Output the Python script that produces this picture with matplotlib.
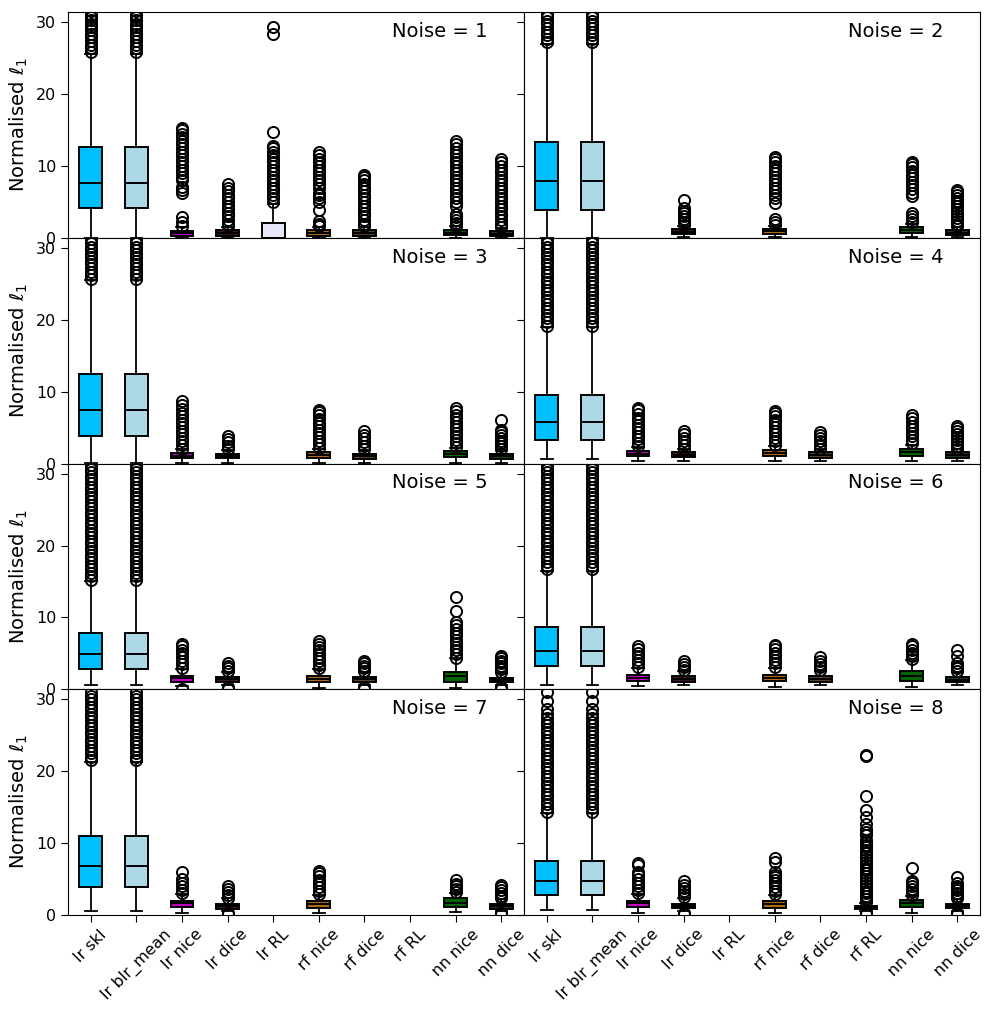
import matplotlib
matplotlib.use('Agg')
import matplotlib.pyplot as plt

cats = ['lr skl', 'lr blr_mean', 'lr nice', 'lr dice', 'lr RL',
        'rf nice', 'rf dice', 'rf RL', 'nn nice', 'nn dice']
colors = ['deepskyblue', 'lightblue', '#c000c0', '#401030', 'lavender',
          '#b06a10', '#5a4020', 'grey', 'darkgreen', '#1c3a1c']

# box stats, one row per noise level (None = method not shown)
q1 = [[4.1, 4.1, 0.3, 0.3, 0.0, 0.3, 0.3, None, 0.4, 0.2],
      [3.9, 3.9, None, 0.5, None, 0.6, None, None, 0.7, 0.45],
      [3.9, 3.9, 0.75, 0.75, None, 0.8, 0.7, None, 0.85, 0.7],
      [3.3, 3.3, 1.0, 0.9, None, 1.0, 0.8, None, 1.1, 0.8],
      [2.85, 2.85, 1.05, 1.0, None, 1.05, 1.0, None, 1.05, 1.0],
      [3.2, 3.2, 1.1, 1.0, None, 1.1, 1.0, None, 1.2, 1.0],
      [3.9, 3.9, 1.05, 0.9, None, 1.0, None, None, 1.1, 0.9],
      [2.75, 2.75, 1.15, 1.0, None, 1.0, None, 0.8, 1.15, 0.95]]
med = [[7.6, 7.6, 0.7, 0.7, 0.0, 0.7, 0.7, None, 0.75, 0.6],
       [7.85, 7.85, None, 0.85, None, 0.95, None, None, 1.1, 0.75],
       [7.5, 7.5, 1.1, 1.05, None, 1.2, 1.05, None, 1.3, 1.05],
       [5.8, 5.8, 1.4, 1.25, None, 1.45, 1.2, None, 1.6, 1.2],
       [4.9, 4.9, 1.6, 1.4, None, 1.5, 1.4, None, 1.8, 1.3],
       [5.3, 5.3, 1.6, 1.4, None, 1.55, 1.4, None, 1.9, 1.35],
       [6.8, 6.8, 1.7, 1.3, None, 1.5, None, None, 1.7, 1.25],
       [4.7, 4.7, 1.7, 1.3, None, 1.5, None, 1.05, 1.65, 1.3]]
q3 = [[12.7, 12.7, 1.0, 1.1, 2.1, 1.1, 1.1, None, 1.1, 1.0],
      [13.3, 13.3, None, 1.2, None, 1.3, None, None, 1.5, 1.05],
      [12.5, 12.5, 1.5, 1.4, None, 1.6, 1.4, None, 1.75, 1.4],
      [9.5, 9.5, 1.8, 1.6, None, 1.9, 1.6, None, 2.1, 1.6],
      [7.85, 7.85, 1.9, 1.75, None, 1.9, 1.75, None, 2.45, 1.6],
      [8.6, 8.6, 2.0, 1.8, None, 2.0, 1.8, None, 2.6, 1.7],
      [11.0, 11.0, 2.0, 1.6, None, 2.0, None, None, 2.3, 1.6],
      [7.45, 7.45, 2.0, 1.6, None, 1.95, None, 1.3, 2.1, 1.6]]
wlo = [[0.05, 0.05, 0.05, 0.05, 0.0, 0.05, 0.05, None, 0.05, 0.05],
       [0.05, 0.05, None, 0.1, None, 0.1, None, None, 0.1, 0.1],
       [0.05, 0.05, 0.15, 0.15, None, 0.15, 0.15, None, 0.15, 0.15],
       [0.6, 0.6, 0.3, 0.3, None, 0.3, 0.3, None, 0.3, 0.3],
       [0.55, 0.55, 0.5, 0.6, None, 0.2, 0.6, None, 0.15, 0.6],
       [0.6, 0.6, 0.5, 0.6, None, 0.3, 0.6, None, 0.3, 0.6],
       [0.55, 0.55, 0.3, 0.6, None, 0.3, None, None, 0.4, 0.6],
       [0.7, 0.7, 0.3, 0.6, None, 0.3, None, 0.6, 0.3, 0.6]]
whi = [[25.6, 25.6, 1.5, 1.5, 4.7, 1.5, 1.5, None, 1.6, 1.4],
       [27.0, 27.0, None, 1.6, None, 1.7, None, None, 2.0, 1.5],
       [25.5, 25.5, 2.0, 1.9, None, 2.0, 1.9, None, 2.2, 1.9],
       [19.0, 19.0, 2.3, 2.0, None, 2.5, 2.0, None, 2.6, 2.0],
       [15.0, 15.0, 2.8, 2.4, None, 2.8, 2.4, None, 4.3, 2.3],
       [16.5, 16.5, 3.0, 2.6, None, 3.0, 2.6, None, 4.1, 2.4],
       [21.3, 21.3, 2.9, 2.3, None, 2.8, None, None, 3.1, 2.2],
       [14.2, 14.2, 2.9, 2.4, None, 2.8, None, 1.7, 2.7, 2.2]]

# outliers per method, one list per noise level
fl_lr_skl = [
    [25.9, 26.4, 26.9, 27.4, 27.9, 28.4, 28.9, 29.4, 29.8, 30.3, 30.8, 31.0, 31.5],
    [27.2, 27.7, 28.2, 28.7, 29.2, 29.7, 30.2, 30.7, 31.2],
    [25.7, 26.2, 26.7, 27.2, 27.7, 28.2, 28.7, 29.2, 29.7, 30.2, 30.7, 31.2],
    [19.2, 19.7, 20.2, 20.7, 21.2, 21.7, 22.2, 22.7, 23.2, 23.7, 24.2, 24.7, 25.2,
     25.7, 26.2, 26.7, 27.2, 27.7, 28.2, 28.7, 29.2, 29.7, 30.2, 30.7, 31.2],
    [15.2, 15.7, 16.2, 16.7, 17.2, 17.7, 18.2, 18.7, 19.2, 19.7, 20.2, 20.7, 21.2,
     21.7, 22.2, 22.7, 23.2, 23.7, 24.2, 24.7, 25.2, 25.7, 26.2, 26.7, 27.2, 27.7,
     28.2, 28.7, 29.2, 29.7, 30.2, 30.7, 31.2],
    [16.7, 17.2, 17.7, 18.2, 18.7, 19.2, 19.7, 20.2, 20.7, 21.2, 21.7, 22.2, 22.7,
     23.2, 23.7, 24.2, 24.7, 25.2, 25.7, 26.2, 26.7, 27.2, 27.7, 28.2, 28.7, 29.2,
     29.7, 30.2, 30.7, 31.2],
    [21.5, 22.0, 22.5, 23.0, 23.5, 24.0, 24.5, 25.0, 25.5, 26.0, 26.5, 27.0, 27.5,
     28.0, 28.5, 29.0, 29.5, 30.0, 30.5, 31.0],
    [14.4, 14.9, 15.4, 15.9, 16.4, 16.9, 17.4, 17.9, 18.4, 18.9, 19.4, 19.9, 20.4,
     20.9, 21.4, 21.9, 22.4, 22.9, 23.4, 23.9, 24.4, 24.9, 25.4, 25.9, 26.4, 26.9,
     27.4, 27.9, 28.6, 29.8, 31.0]]
fl_lr_blr = fl_lr_skl  # identical to lr skl in the figure
fl_lr_nice = [
    [1.7, 2.2, 2.9, 6.3, 6.7, 7.1, 8.0, 8.5, 9.0, 9.5, 10.0, 10.5, 11.0, 11.5, 12.0,
     12.5, 13.0, 13.5, 14.0, 14.5, 15.0, 15.3],
    [],
    [2.1, 2.6, 3.1, 3.6, 4.1, 4.6, 5.1, 5.6, 6.1, 6.6, 7.1, 7.6, 8.1, 8.7],
    [2.4, 2.9, 3.4, 3.9, 4.4, 4.9, 5.4, 5.9, 6.4, 6.9, 7.4, 7.8],
    [0.1, 3.0, 3.5, 4.0, 4.5, 5.0, 5.5, 6.0, 6.3],
    [3.1, 3.6, 4.1, 4.6, 5.1, 5.6, 6.0],
    [3.0, 3.5, 4.0, 4.5, 5.0, 6.0],
    [3.0, 3.5, 4.0, 4.5, 5.0, 5.5, 6.0, 6.9, 7.3]]
fl_lr_dice = [
    [1.6, 2.0, 2.5, 3.0, 3.5, 4.0, 4.5, 5.0, 5.5, 6.0, 6.5, 7.0, 7.5],
    [1.8, 2.2, 2.6, 3.0, 3.4, 3.8, 4.1, 5.3],
    [2.0, 2.5, 3.0, 3.4, 3.8],
    [2.1, 2.6, 3.1, 3.6, 4.1, 4.6],
    [0.1, 0.3, 2.5, 2.9, 3.3, 3.6],
    [2.7, 3.1, 3.5, 4.0],
    [0.1, 0.3, 2.4, 2.8, 3.2, 3.6, 4.0],
    [0.1, 0.3, 2.5, 2.9, 3.3, 3.7, 4.2, 4.7]]
fl_lr_rl = [
    [5.0, 5.5, 6.0, 6.5, 7.0, 7.5, 8.0, 8.5, 9.0, 9.5, 10.0, 10.5, 11.0, 11.5, 12.0,
     12.5, 12.8, 14.8, 28.3, 29.3],
    [], [], [], [], [], [], []]
fl_rf_nice = [
    [1.7, 2.0, 2.4, 3.9, 5.0, 5.5, 5.9, 6.3, 7.0, 7.5, 8.0, 8.5, 9.0, 9.5, 10.0,
     10.5, 11.0, 11.5, 11.9],
    [1.8, 2.2, 2.6, 4.8, 5.6, 6.0, 6.5, 7.0, 7.5, 8.0, 8.5, 9.0, 9.5, 10.0, 10.5,
     11.0, 11.2],
    [2.2, 2.7, 3.2, 3.7, 4.2, 4.7, 5.2, 5.7, 6.2, 6.7, 7.2, 7.5],
    [2.6, 3.1, 3.6, 4.1, 4.6, 5.1, 5.6, 6.1, 6.6, 7.0, 7.3],
    [2.9, 3.4, 3.9, 4.4, 4.9, 5.4, 5.9, 6.3, 6.7],
    [3.1, 3.6, 4.1, 4.6, 5.1, 5.6, 6.0, 6.2],
    [2.9, 3.4, 3.9, 4.4, 4.9, 5.4, 5.8, 6.1],
    [2.9, 3.4, 3.9, 4.4, 4.9, 5.3, 5.6, 6.0, 7.4, 7.9]]
fl_rf_dice = [
    [1.6, 2.0, 2.5, 3.0, 3.5, 4.0, 4.5, 5.0, 5.5, 6.0, 6.5, 7.0, 7.5, 8.0, 8.5, 8.8],
    [],
    [2.0, 2.5, 3.0, 3.5, 4.0, 4.5],
    [2.1, 2.6, 3.1, 3.6, 4.0, 4.4],
    [0.1, 0.3, 2.5, 2.9, 3.3, 3.7, 4.0],
    [2.7, 3.1, 3.5, 4.0, 4.5],
    [],
    []]
fl_rf_rl = [
    [], [], [], [], [], [], [],
    [0.1, 0.3, 1.8, 2.2, 2.6, 3.0, 3.4, 3.8, 4.2, 4.6, 5.0, 5.4, 5.8, 6.2, 6.6, 7.0,
     7.4, 7.8, 8.2, 8.6, 9.0, 9.4, 9.8, 10.2, 10.5, 11.1, 11.6, 12.0, 12.6, 13.6,
     14.6, 16.6, 22.1, 22.3]]
fl_nn_nice = [
    [1.7, 2.1, 2.5, 2.9, 3.3, 4.5, 5.0, 5.5, 6.0, 6.5, 7.0, 7.5, 8.0, 8.5, 9.0, 9.5,
     10.0, 10.5, 11.0, 11.5, 12.0, 12.5, 13.0, 13.5],
    [2.2, 2.6, 3.0, 3.4, 5.8, 6.3, 6.8, 7.3, 7.8, 8.3, 8.8, 9.3, 9.8, 10.3, 10.5],
    [2.3, 2.8, 3.3, 3.8, 4.3, 4.8, 5.3, 5.8, 6.3, 6.8, 7.3, 7.7],
    [2.8, 3.3, 3.8, 4.3, 4.8, 5.3, 5.8, 6.3, 6.8],
    [4.4, 4.9, 5.4, 5.9, 6.4, 6.9, 7.4, 7.9, 8.4, 8.9, 9.4, 10.9, 12.9],
    [4.2, 4.6, 5.0, 5.5, 6.0, 6.3],
    [3.2, 3.6, 4.0, 4.3, 4.9],
    [2.8, 3.2, 3.6, 4.0, 4.4, 4.8, 6.5]]
fl_nn_dice = [
    [1.5, 2.0, 2.5, 3.0, 3.5, 4.0, 4.5, 5.0, 5.5, 6.0, 6.5, 7.0, 7.5, 8.0, 8.5, 9.0,
     9.5, 10.0, 10.5, 11.0],
    [1.6, 2.0, 2.4, 2.8, 3.2, 3.6, 4.0, 4.4, 4.8, 5.2, 5.6, 6.0, 6.4, 6.6],
    [2.0, 2.4, 2.8, 3.2, 3.6, 4.0, 4.4, 4.7, 6.0],
    [2.1, 2.5, 2.9, 3.3, 3.7, 4.1, 4.5, 4.9, 5.3],
    [0.1, 0.3, 2.4, 2.8, 3.2, 3.6, 4.0, 4.3, 4.6],
    [2.5, 2.9, 3.3, 3.6, 4.7, 5.4],
    [0.1, 0.3, 2.3, 2.7, 3.1, 3.5, 3.9, 4.2],
    [0.1, 0.3, 2.3, 2.7, 3.1, 3.5, 3.8, 4.1, 4.4, 5.3]]
fliers = [fl_lr_skl, fl_lr_blr, fl_lr_nice, fl_lr_dice, fl_lr_rl,
          fl_rf_nice, fl_rf_dice, fl_rf_rl, fl_nn_nice, fl_nn_dice]

fig, axes = plt.subplots(4, 2, figsize=(9.96, 10.16), dpi=100, sharex=True, sharey=True)
plt.subplots_adjust(left=0.0683, right=0.984, top=0.988, bottom=0.0994,
                    wspace=0, hspace=0)

for k, ax in enumerate(axes.flat):
    stats, pos, cols = [], [], []
    for j in range(len(cats)):
        if q1[k][j] is None:
            continue
        stats.append(dict(med=med[k][j], q1=q1[k][j], q3=q3[k][j],
                          whislo=wlo[k][j], whishi=whi[k][j],
                          fliers=fliers[j][k], label=cats[j]))
        pos.append(j + 1)
        cols.append(colors[j])
    bp = ax.bxp(stats, positions=pos, widths=0.5, patch_artist=True,
                manage_ticks=False,
                boxprops=dict(linewidth=1.4, edgecolor='black'),
                medianprops=dict(color='black', linewidth=1.4),
                whiskerprops=dict(linewidth=1.3),
                capprops=dict(linewidth=1.3),
                flierprops=dict(marker='o', markersize=8, markerfacecolor='none',
                                markeredgecolor='black', markeredgewidth=1.4))
    for patch, c in zip(bp['boxes'], cols):
        patch.set_facecolor(c)
    ax.text(0.71, 0.915, f'Noise = {k + 1}', transform=ax.transAxes,
            fontsize=14, va='center')
    ax.set_xlim(0.5, 10.5)
    ax.set_ylim(0, 31.4)
    ax.set_yticks([0, 10, 20, 30])
    ax.set_xticks(range(1, 11))
    ax.tick_params(labelsize=11.5, length=5)
    if k % 2 == 0:
        ax.set_ylabel('Normalised $\\ell_1$', fontsize=14)

for ax in axes[-1]:
    ax.set_xticklabels(cats, rotation=45, fontsize=11.5)

plt.savefig('out.png', dpi=100)
